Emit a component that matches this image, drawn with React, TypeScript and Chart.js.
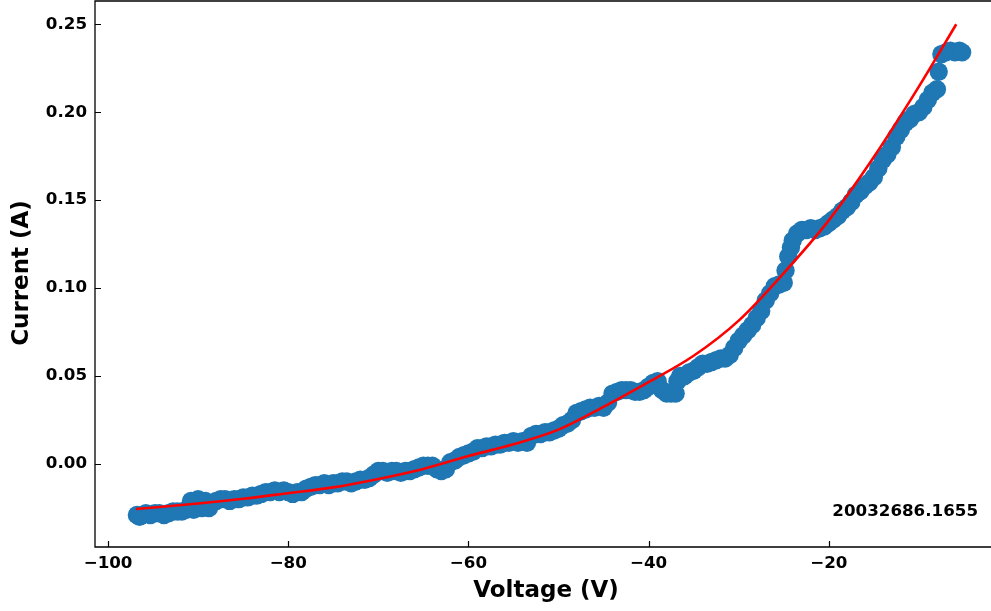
import React, { useEffect, useRef } from "react";
import { Chart, registerables } from "chart.js";

Chart.register(...registerables);

// Measured data (Voltage in V, Current in A)
const voltage = [
  -96.8, -96.5, -96.2, -95.8, -95.3, -94.8, -94.3, -93.8, -93.3, -92.8, -92.3, -91.8, -91.3,
  -90.8, -90.5, -90.0, -89.6, -89.2, -88.8, -88.4, -88.0,
  -87.5, -87.0, -86.5, -86.0, -85.5, -85.0, -84.5, -84.0, -83.5, -83.0,
  -82.5, -82.0, -81.5, -81.0, -80.5, -80.0, -79.5, -79.0, -78.5,
  -78.0, -77.5, -77.0, -76.5, -76.0, -75.5, -75.0, -74.5, -74.0, -73.5, -73.0, -72.5, -72.0, -71.5, -71.0,
  -70.5, -70.0, -69.5, -69.0, -68.5, -68.0, -67.5, -67.0, -66.5, -66.0, -65.5, -65.0, -64.5, -64.0,
  -63.5, -63.0, -62.5, -62.0, -61.5, -61.0, -60.5, -60.0, -59.5, -59.0, -58.5, -58.0, -57.5, -57.0,
  -56.5, -56.0, -55.5, -55.0, -54.5, -54.0, -53.5, -53.0, -52.5, -52.0, -51.5, -51.0, -50.5, -50.0,
  -49.5, -49.0, -48.5, -48.0, -47.5, -47.0, -46.5, -46.0, -45.5, -45.0, -44.5, -44.0, -43.5, -43.0,
  -42.5, -42.0, -41.5, -41.0, -40.5, -40.0, -39.5, -39.0, -38.5, -38.0, -37.5, -37.0, -36.8, -36.5,
  -36.0, -35.5, -35.0, -34.5, -34.0, -33.5, -33.0, -32.5, -32.0, -31.5, -31.0, -30.5, -30.0, -29.5,
  -29.0, -28.5, -28.0, -27.5, -27.0, -26.5, -26.0, -25.5, -25.0, -24.8, -24.5, -24.2, -24.0, -23.5,
  -23.0, -22.5, -22.0, -21.5, -21.0, -20.5, -20.0, -19.5, -19.0, -18.5, -18.0, -17.5, -17.0, -16.5,
  -16.0, -15.5, -15.0, -14.5, -14.0, -13.5, -13.0, -12.5, -12.0, -11.5, -11.0, -10.5, -10.0, -9.5,
  -9.0, -8.5, -8.0, -7.8, -7.5, -7.0, -6.5, -6.0, -5.5, -5.2,
];

const current = [
  -0.029, -0.030, -0.029, -0.028, -0.029, -0.028, -0.028, -0.029, -0.028, -0.027, -0.027, -0.027, -0.026,
  -0.021, -0.026, -0.020, -0.025, -0.021, -0.025, -0.022, -0.021,
  -0.020, -0.020, -0.021, -0.020, -0.020, -0.019, -0.019, -0.018, -0.018, -0.017,
  -0.016, -0.016, -0.015, -0.016, -0.015, -0.016, -0.017, -0.016, -0.016,
  -0.014, -0.013, -0.012, -0.012, -0.011, -0.012, -0.011, -0.011, -0.010, -0.010, -0.011, -0.010, -0.009, -0.009, -0.008,
  -0.006, -0.004, -0.004, -0.005, -0.004, -0.004, -0.005, -0.004, -0.004, -0.003, -0.002, -0.001, -0.001, -0.001,
  -0.003, -0.004, -0.003, 0.001, 0.002, 0.004, 0.005, 0.006, 0.007, 0.009, 0.009, 0.010, 0.010, 0.011,
  0.011, 0.012, 0.012, 0.013, 0.012, 0.013, 0.012, 0.016, 0.017, 0.017, 0.018, 0.018, 0.019, 0.020,
  0.022, 0.023, 0.025, 0.029, 0.030, 0.031, 0.032, 0.032, 0.033, 0.032, 0.035, 0.040, 0.041, 0.042,
  0.042, 0.042, 0.041, 0.041, 0.042, 0.044, 0.046, 0.047, 0.042, 0.040, 0.040, 0.040, 0.047, 0.050,
  0.050, 0.052, 0.053, 0.055, 0.057, 0.057, 0.058, 0.059, 0.060, 0.060, 0.062, 0.066, 0.070, 0.073,
  0.076, 0.079, 0.083, 0.087, 0.093, 0.097, 0.101, 0.102, 0.103, 0.110, 0.118, 0.123, 0.127, 0.131,
  0.133, 0.133, 0.134, 0.133, 0.134, 0.135, 0.137, 0.139, 0.141, 0.144, 0.146, 0.149, 0.153, 0.155,
  0.158, 0.160, 0.163, 0.168, 0.173, 0.176, 0.180, 0.186, 0.190, 0.194, 0.196, 0.199, 0.200, 0.203,
  0.207, 0.211, 0.213, 0.223, 0.233, 0.234, 0.235, 0.234, 0.235, 0.234,
];

// Fitted curve
const fitVoltage = [-96.9, -90, -85, -80, -75, -70, -65, -60, -55, -50, -45, -40, -35, -30, -25, -20, -15, -10, -5.85];
const fitCurrent = [-0.0256, -0.0225, -0.0198, -0.0166, -0.0133, -0.0085, -0.0028, 0.0045, 0.0112, 0.0195, 0.0325, 0.0465, 0.0615, 0.0815, 0.1085, 0.1385, 0.1745, 0.2145, 0.2500];

const xTicks = [-100, -80, -60, -40, -20];
const yTicks = [0.0, 0.05, 0.1, 0.15, 0.2, 0.25];

const xLabel = "Voltage (V)";
const yLabel = "Current (A)";
const annotation = "20032686.1655";

const FONT = "'DejaVu Sans', sans-serif";

const fmtX = (v: number) => (v < 0 ? "\u2212" + Math.abs(v) : String(v));
const fmtY = (v: number) => (v < 0 ? "\u2212" + Math.abs(v).toFixed(2) : v.toFixed(2));

export default function App() {
  const ref = useRef<HTMLCanvasElement>(null);

  useEffect(() => {
    const canvas = ref.current;
    if (!canvas) return;

    const decor = {
      id: "decor",
      afterDraw(chart: any) {
        const ctx = chart.ctx;
        const { left, right, top, bottom } = chart.chartArea;
        ctx.save();
        ctx.strokeStyle = "#000";
        ctx.lineWidth = 1.3;
        ctx.beginPath();
        ctx.moveTo(left, top);
        ctx.lineTo(left, bottom);
        ctx.lineTo(right, bottom);
        ctx.lineTo(right, top);
        ctx.closePath();
        ctx.stroke();
        // inward ticks
        ctx.lineWidth = 1.2;
        const xs = chart.scales.x;
        const ys = chart.scales.y;
        ctx.beginPath();
        for (const v of xTicks) {
          const px = Math.round(xs.getPixelForValue(v)) + 0.5;
          ctx.moveTo(px, bottom);
          ctx.lineTo(px, bottom - 6);
        }
        for (const v of yTicks) {
          const py = Math.round(ys.getPixelForValue(v)) + 0.5;
          ctx.moveTo(left, py);
          ctx.lineTo(left + 6, py);
        }
        ctx.stroke();
        // titles
        ctx.fillStyle = "#000";
        ctx.font = `bold 23px ${FONT}`;
        ctx.textAlign = "center";
        ctx.textBaseline = "middle";
        ctx.fillText(xLabel, 546, 591);
        ctx.save();
        ctx.translate(22, 273);
        ctx.rotate(-Math.PI / 2);
        ctx.fillText(yLabel, 0, 0);
        ctx.restore();
        // annotation
        ctx.font = `bold 16.7px ${FONT}`;
        ctx.textAlign = "right";
        ctx.textBaseline = "middle";
        ctx.fillText(annotation, 978, 512);
        ctx.restore();
      },
    };

    const chart = new Chart(canvas, {
      type: "scatter",
      data: {
        datasets: [
          {
            label: "fit",
            data: fitVoltage.map((v, i) => ({ x: v, y: fitCurrent[i] })),
            showLine: true,
            borderColor: "#ff0000",
            borderWidth: 2.6,
            pointRadius: 0,
            pointHoverRadius: 0,
            cubicInterpolationMode: "monotone",
            fill: false,
          } as any,
          {
            label: "data",
            data: voltage.map((v, i) => ({ x: v, y: current[i] })),
            backgroundColor: "#1f77b4",
            borderColor: "#1f77b4",
            borderWidth: 0,
            pointRadius: 9.2,
            pointHoverRadius: 9.2,
          },
        ],
      },
      options: {
        animation: false,
        responsive: false,
        maintainAspectRatio: false,
        devicePixelRatio: 1,
        layout: { autoPadding: false, padding: { top: 1, left: 0, right: 6, bottom: 0 } },
        plugins: { legend: { display: false }, tooltip: { enabled: false } },
        scales: {
          x: {
            type: "linear",
            min: -101.45,
            max: -0.55,
            grid: { display: false, drawTicks: false },
            border: { display: false },
            afterBuildTicks: (s: any) => {
              s.ticks = xTicks.map((v) => ({ value: v }));
            },
            afterFit: (s: any) => {
              s.height = 64;
              s.paddingLeft = 0;
              s.paddingRight = 0;
              s.paddingTop = 0;
              s.paddingBottom = 0;
            },
            ticks: {
              color: "#000",
              font: { family: FONT, size: 16.7, weight: "bold" },
              padding: 7,
              maxRotation: 0,
              autoSkip: false,
              callback: (v: any) => fmtX(Number(v)),
            },
          },
          y: {
            type: "linear",
            min: -0.0472,
            max: 0.2632,
            grid: { display: false, drawTicks: false },
            border: { display: false },
            afterBuildTicks: (s: any) => {
              s.ticks = yTicks.map((v) => ({ value: v }));
            },
            afterFit: (s: any) => {
              s.width = 95;
              s.paddingLeft = 0;
              s.paddingRight = 0;
              s.paddingTop = 0;
              s.paddingBottom = 0;
            },
            ticks: {
              color: "#000",
              font: { family: FONT, size: 16.7, weight: "bold" },
              padding: 8,
              autoSkip: false,
              callback: (v: any) => fmtY(Number(v)),
            },
          },
        },
      },
      plugins: [decor],
    });

    return () => chart.destroy();
  }, []);

  return (
    <div
      style={{
        position: "absolute",
        left: 0,
        top: 0,
        width: 991,
        height: 611,
        overflow: "hidden",
        background: "#fff",
      }}
    >
      <canvas ref={ref} width={1010} height={611} style={{ display: "block", width: 1010, height: 611 }} />
    </div>
  );
}
